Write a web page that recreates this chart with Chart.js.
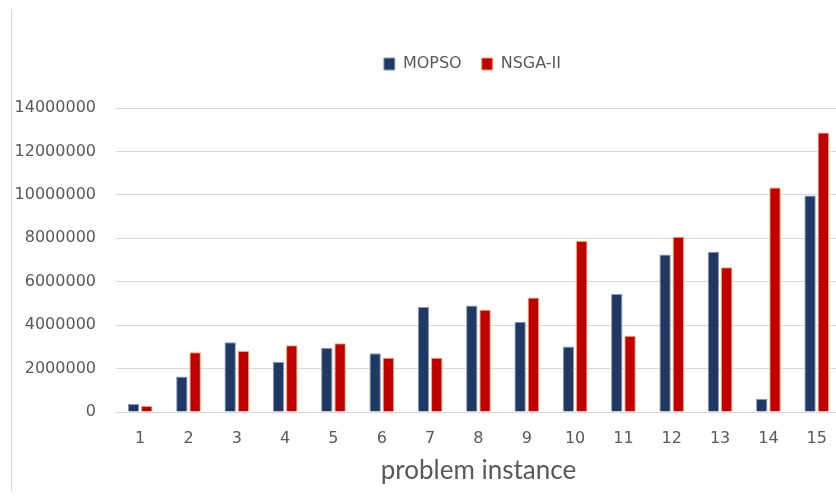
<!DOCTYPE html>
<html>
<head>
<meta charset="utf-8">
<script src="https://cdn.jsdelivr.net/npm/chart.js@4/dist/chart.umd.min.js"></script>
<style>
  html, body { margin: 0; padding: 0; background: #ffffff; }
  #wrap { position: relative; width: 836px; height: 497px; overflow: hidden; }
  #frame { position: absolute; left: 11px; top: 9px; width: 0; height: 482px; border-left: 1px solid #d9d9d9; z-index: 2; }
  canvas { position: absolute; left: 0; top: 0; }
</style>
</head>
<body>
<div id="wrap">
  <div id="frame"></div>
  <canvas id="c" width="844" height="497"></canvas>
</div>
<script>
const categories = ['1','2','3','4','5','6','7','8','9','10','11','12','13','14','15'];
const mopsoValues = [370000,1640000,3210000,2310000,2960000,2700000,4840000,4910000,4160000,3020000,5430000,7250000,7380000,610000,9970000];
const nsgaValues = [280000,2750000,2810000,3070000,3170000,2500000,2500000,4710000,5270000,7870000,3510000,8070000,6670000,10340000,12870000];
const seriesNames = ['MOPSO','NSGA-II'];
const yMin = 0, yMax = 14000000, yStep = 2000000;
const xTitle = 'problem instance';

const legendSpacer = {
  id: 'legendSpacer',
  beforeInit(chart) {
    const origFit = chart.legend.fit;
    chart.legend.fit = function () {
      origFit.bind(chart.legend)();
      this.height += 26;
    };
  },
  afterLayout(chart) {
    chart.legend.left -= 6;
    chart.legend.right -= 6;
  }
};

new Chart(document.getElementById('c'), {
  type: 'bar',
  data: {
    labels: categories,
    datasets: [
      {
        label: seriesNames[0],
        data: mopsoValues,
        backgroundColor: '#1F3864',
        borderColor: '#8e9fbb',
        borderWidth: 1,
        categoryPercentage: 0.55,
        barPercentage: 0.86
      },
      {
        label: seriesNames[1],
        data: nsgaValues,
        backgroundColor: '#C00000',
        borderColor: '#f6a465',
        borderWidth: 1,
        categoryPercentage: 0.55,
        barPercentage: 0.86
      }
    ]
  },
  plugins: [legendSpacer],
  options: {
    responsive: false,
    animation: false,
    layout: { padding: { top: 36, right: 0, bottom: 0, left: 0 } },
    plugins: {
      tooltip: { enabled: false },
      legend: {
        position: 'top',
        fullSize: false,
        labels: {
          color: '#595959',
          font: { family: 'DejaVu Sans', size: 16 },
          boxWidth: 11,
          boxHeight: 12,
          padding: 20
        }
      }
    },
    scales: {
      x: {
        afterFit(scale) { scale.height = 85; },
        grid: { display: false, drawTicks: false },
        border: { display: false },
        ticks: {
          color: '#595959',
          font: { family: 'DejaVu Sans', size: 16 },
          padding: 17,
          maxRotation: 0
        },
        title: {
          display: true,
          text: xTitle,
          color: '#595959',
          font: { family: 'Lato', size: 26 },
          padding: { top: 0, bottom: 11 }
        }
      },
      y: {
        min: yMin,
        max: yMax,
        afterFit(scale) { scale.width = 116; },
        grid: { color: '#d9d9d9', lineWidth: 1, drawTicks: false },
        border: { display: false },
        ticks: {
          stepSize: yStep,
          color: '#595959',
          font: { family: 'DejaVu Sans', size: 16 },
          padding: 20,
          callback: v => String(v)
        }
      }
    }
  }
});
</script>
</body>
</html>
